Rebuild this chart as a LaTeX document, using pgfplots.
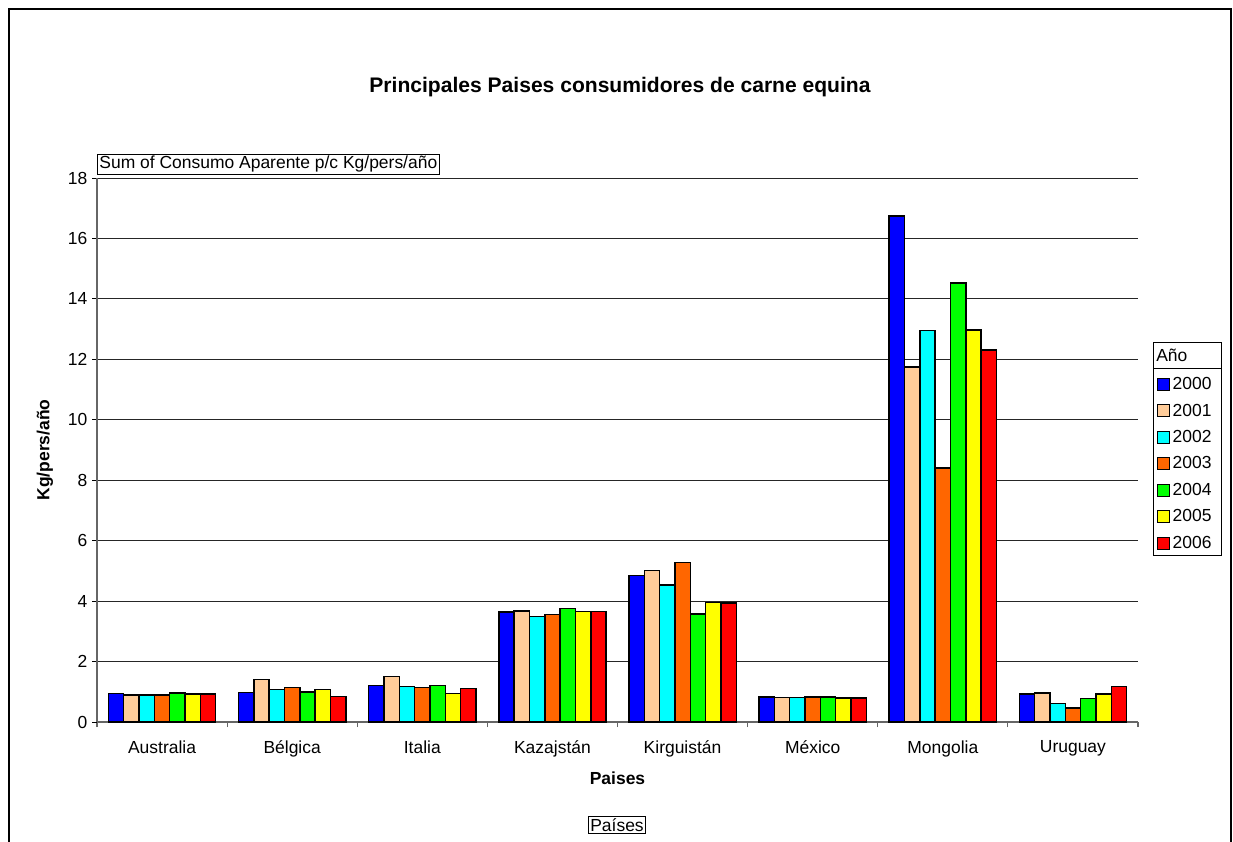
\documentclass[border=0pt]{standalone}
\usepackage{fontspec}
\setmainfont{Liberation Sans}
\usepackage{pgfplots}
\usepackage{pgfplotstable}
\pgfplotsset{compat=1.18}
\definecolor{c2000}{RGB}{0,0,255}
\definecolor{c2001}{RGB}{255,204,153}
\definecolor{c2002}{RGB}{0,255,255}
\definecolor{c2003}{RGB}{255,102,0}
\definecolor{c2004}{RGB}{0,255,0}
\definecolor{c2005}{RGB}{255,255,0}
\definecolor{c2006}{RGB}{255,0,0}
\pgfplotstableread{
x y2000 y2001 y2002 y2003 y2004 y2005 y2006
0 0.94 0.89 0.89 0.90 0.96 0.93 0.93
1 0.97 1.41 1.07 1.15 0.99 1.07 0.85
2 1.21 1.50 1.17 1.15 1.21 0.95 1.10
3 3.64 3.67 3.49 3.56 3.75 3.66 3.66
4 4.85 5.01 4.53 5.27 3.58 3.95 3.94
5 0.82 0.81 0.81 0.82 0.82 0.80 0.79
6 16.75 11.74 12.96 8.40 14.53 12.97 12.31
7 0.93 0.96 0.62 0.46 0.77 0.93 1.17
}\data
\newcommand{\basefont}{\fontsize{13.1}{15.5}\selectfont}
\pgfplotsset{sqlegend/.style={legend image code/.code={\draw[##1,draw=black,line width=0.7pt] (0pt,-4.5pt) rectangle (9pt,4.5pt);}}}
\begin{document}
\begin{tikzpicture}
\begin{scope}[x=0.75pt,y=-0.75pt]
\useasboundingbox (0,0) rectangle (1233,842);
\fill[white] (0,0) rectangle (1233,842);
\draw[line width=0.9pt] (9,9) rectangle (1231,900);
\end{scope}
\begin{axis}[
  at={(72.75pt,-541.5pt)}, anchor=south west,
  width=780.75pt, height=408pt, scale only axis,
  ybar=0pt, bar width=11.5pt,
  xmin=-0.5, xmax=7.5, ymin=0, ymax=18,
  ytick={0,2,...,18},
  xtick={0,...,7},
  xticklabels={Australia,Bélgica,Italia,Kazajstán,Kirguistán,México,Mongolia,Uruguay},
  minor xtick={-0.5,0.5,...,7.5},
  axis lines*=left,
  axis line style={black!60, line width=0.8pt},
  tick align=outside,
  major tick length=3.75pt, minor tick length=3.75pt,
  major x tick style={draw=none},
  minor x tick style={black!60, line width=0.8pt},
  major y tick style={black, line width=0.7pt},
  ymajorgrids, grid style={black!85, line width=0.6pt},
  tick label style={font=\basefont},
  /pgf/number format/assume math mode=true,
  xticklabel style={yshift=-6.5pt},
  xlabel={Paises}, ylabel={Kg/pers/año},
  xlabel style={at={(axis description cs:0.5,-0.103)}, anchor=center, font=\basefont\bfseries},
  ylabel style={at={(axis description cs:-0.05,0.5)}, anchor=center, font=\basefont\bfseries},
  legend style={at={(1.0183,0.636)}, anchor=north west, draw=none, fill=none,
    inner sep=0pt, outer sep=0pt, row sep=7.2pt, font=\basefont,
    nodes={inner sep=1pt}, /tikz/every odd column/.append style={column sep=1pt}},
  legend cell align=left,
]
\addplot[fill=c2000, draw=black, line width=1.1pt, sqlegend] table[x=x,y=y2000]{\data};
\addplot[fill=c2001, draw=black, line width=1.1pt, sqlegend] table[x=x,y=y2001]{\data};
\addplot[fill=c2002, draw=black, line width=1.1pt, sqlegend] table[x=x,y=y2002]{\data};
\addplot[fill=c2003, draw=black, line width=1.1pt, sqlegend] table[x=x,y=y2003]{\data};
\addplot[fill=c2004, draw=black, line width=1.1pt, sqlegend] table[x=x,y=y2004]{\data};
\addplot[fill=c2005, draw=black, line width=1.1pt, sqlegend] table[x=x,y=y2005]{\data};
\addplot[fill=c2006, draw=black, line width=1.1pt, sqlegend] table[x=x,y=y2006]{\data};
\legend{2000,2001,2002,2003,2004,2005,2006}
\end{axis}
\begin{scope}[x=0.75pt,y=-0.75pt]
\node[font=\fontsize{15.8}{19}\selectfont\bfseries] at (620,87) {Principales Paises consumidores de carne equina};
\node[draw, line width=0.6pt, inner sep=1.5pt, anchor=south west, font=\basefont] at (97,175) {Sum of Consumo Aparente p/c Kg/pers/año};
\node[draw, line width=0.6pt, inner sep=1.5pt, font=\basefont] at (617,825) {Países};
\draw[line width=0.6pt] (1153,342) rectangle (1221,555);
\draw[line width=0.6pt] (1153,368) -- (1221,368);
\node[anchor=west, inner sep=0pt, font=\basefont] at (1156,355) {Año};
\end{scope}
\end{tikzpicture}
\end{document}
